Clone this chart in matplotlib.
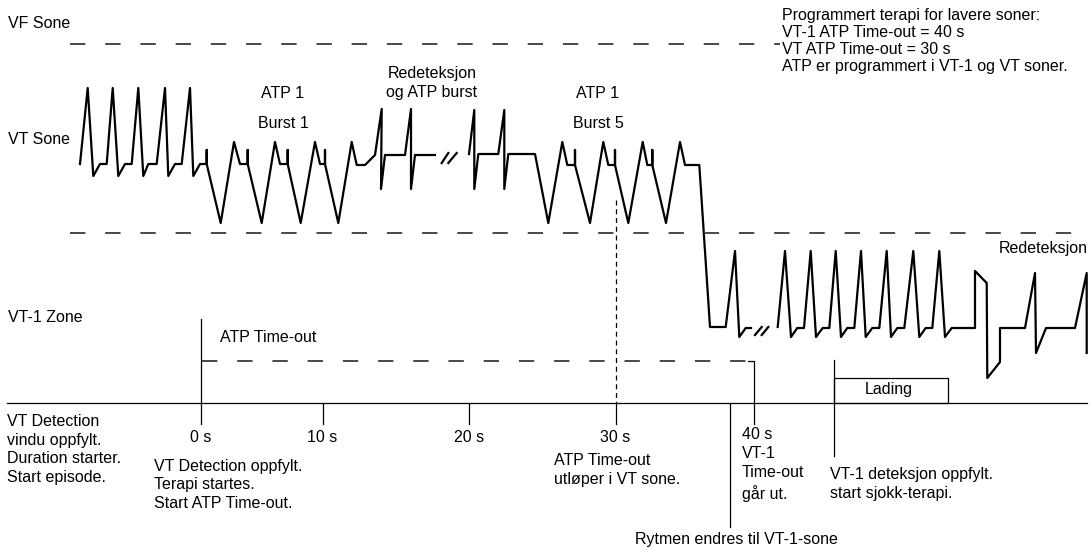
import matplotlib
matplotlib.use('Agg')
import matplotlib.pyplot as plt
from matplotlib.patches import Rectangle

plt.rcParams['font.family'] = ['Liberation Sans', 'DejaVu Sans']

# ---- waveform vertices (picture pixels, y down) ----
# VT rhythm, ATP burst 1, redetection beats
seg_a_x = [80, 87.7, 93.3, 100, 106.7, 112.7, 118.3, 125, 131.7, 138.3, 143.3, 148.3, 156.7,
           165, 168.3, 175, 181.7, 190, 193.3, 200, 206.7,
           206.7, 206.7, 220.7, 234, 240, 247.7, 247.7, 247.7, 261.7, 275, 280, 287.7,
           287.7, 287.7, 300.7, 315, 320, 325, 325, 325, 338.3, 351.7, 356.7, 365,
           375, 381.7, 381, 385, 405, 411, 411, 415, 435]
seg_a_y = [164, 88, 176, 164, 164, 88, 176, 164, 164, 88, 176, 164, 164,
           88, 176, 164, 164, 88, 176, 164, 164,
           150, 164, 223, 142, 164, 164, 150, 164, 223, 142, 164, 164,
           150, 164, 223, 142, 164, 164, 150, 164, 223, 142, 165, 165,
           155, 109, 189, 155, 155, 109, 189, 155, 155]

# redetection, ATP burst 5, drop into VT-1 zone
seg_b_x = [469, 474.3, 474.3, 478.3, 498.3, 504.3, 504.3, 508.3, 535,
           548.3, 562.3, 567.3, 575, 575, 575, 590, 603.3, 608.3, 615, 615, 615,
           628.3, 642.7, 647.3, 652.3, 652.3, 652.3, 666, 680, 685, 699.3,
           710, 725.7, 735, 739.3, 745.7, 751]
seg_b_y = [154, 110, 189, 154, 154, 110, 189, 154, 154,
           223, 142, 165, 165, 150, 165, 223, 142, 165, 165, 150, 165,
           223, 142, 165, 165, 150, 165, 223, 142, 165, 165,
           327, 327, 251, 337, 328, 328]

# VT-1 rhythm, shock, redetection
seg_c_x = [777.7, 785, 791, 797.3, 804, 810.7, 816, 822.7, 829.3, 835.7, 841, 847.3, 854.3,
           861, 865.7, 872.3, 879.3, 886.7, 891, 897.3, 904.3, 913.3, 919.3, 925.7, 932.3,
           939.3, 945, 951.7, 975, 975, 986.7, 987.3, 1000, 1000, 1025, 1035, 1036, 1046,
           1075, 1086.7, 1086.7]
seg_c_y = [327, 251, 337, 328, 328, 251, 337, 328, 328, 251, 337, 328, 328,
           251, 337, 328, 328, 251, 337, 328, 328, 251, 337, 328, 328,
           251, 337, 328, 328, 271, 283, 378, 362, 328, 328, 273, 353, 328,
           328, 273, 353]

# break marks "//"
breaks = [((441.7, 448.3), (163, 153)), ((448.3, 456.7), (163, 153)),
          ((755, 761.7), (335, 327)), ((761.7, 768.3), (335, 327))]

# zone borders
vf_line = ((70, 780), 44)
vt_line = ((70, 1091), 233)
atp_line = ((202, 754), 360.5)

# time axis
axis_y = 402.5
tick_x = [201, 322.5, 469, 615.5, 754]
tick_labels = ['0 s', '10 s', '20 s', '30 s', '40 s']

fig = plt.figure(figsize=(10.91, 5.5), dpi=100)
ax = fig.add_axes([0, 0, 1, 1])
ax.set_xlim(0, 1091)
ax.set_ylim(550, 0)
ax.axis('off')

lw = 1.6
for xs, ys in [(seg_a_x, seg_a_y), (seg_b_x, seg_b_y), (seg_c_x, seg_c_y)]:
    ax.plot(xs, ys, color='black', lw=lw, solid_joinstyle='round')
for bx, by in breaks:
    ax.plot(bx, by, color='black', lw=lw)

dash = (0, (8.5, 11))
ax.plot(vf_line[0], [vf_line[1]] * 2, color='#3a3a3a', lw=1.3, linestyle=dash)
ax.plot(vt_line[0], [vt_line[1]] * 2, color='#3a3a3a', lw=1.3, linestyle=dash)
ax.plot(atp_line[0], [atp_line[1]] * 2, color='#3a3a3a', lw=1.3, linestyle=dash)

# time axis and ticks
ax.plot([7, 1087], [axis_y, axis_y], color='black', lw=0.9)
for tx in tick_x:
    ax.plot([tx, tx], [axis_y, axis_y + 21.5], color='black', lw=0.9)

fs = 11.5
for tx, tl in zip(tick_x[:4], tick_labels[:4]):
    ax.text(tx, 437, tl, ha='center', va='center', fontsize=fs)

# vertical markers
ax.plot([tick_x[0], tick_x[0]], [319, axis_y], color='black', lw=0.9)
ax.plot([tick_x[3], tick_x[3]], [200, axis_y], color='black', lw=0.9, linestyle=(0, (4, 3)))
ax.plot([tick_x[4] - 6, tick_x[4], tick_x[4]], [atp_line[1], atp_line[1], axis_y],
        color='black', lw=0.9)
ax.plot([729.5, 729.5], [axis_y, 527], color='black', lw=0.9)
ax.plot([834, 834], [360, 456], color='black', lw=0.9)
ax.add_patch(Rectangle((834, 377.5), 114, axis_y - 377.5, fill=False, ec='black', lw=0.9))

ax.text(8, 24, 'VF Sone', fontsize=fs, va='center')
ax.text(8, 139, 'VT Sone', fontsize=fs, va='center')
ax.text(8, 317, 'VT-1 Zone', fontsize=fs, va='center')
ax.text(220.5, 338, 'ATP Time-out', fontsize=fs, va='center')
ax.text(282.5, 94, 'ATP 1', fontsize=fs, ha='center', va='center')
ax.text(283, 124, 'Burst 1', fontsize=fs, ha='center', va='center')
ax.text(432, 83, 'Redeteksjon\nog ATP burst', fontsize=fs, ha='center', va='center',
        linespacing=1.3)
ax.text(597, 94, 'ATP 1', fontsize=fs, ha='center', va='center')
ax.text(598.5, 124, 'Burst 5', fontsize=fs, ha='center', va='center')
ax.text(1088, 248, 'Redeteksjon', fontsize=fs, ha='right', va='center')
ax.text(889, 389.5, 'Lading', fontsize=fs, ha='center', va='center')
ax.text(782, 41, 'Programmert terapi for lavere soner:\nVT-1 ATP Time-out = 40 s\n'
        'VT ATP Time-out = 30 s\nATP er programmert i VT-1 og VT soner.',
        fontsize=fs, va='center', linespacing=1.16)
ax.text(7, 449.5, 'VT Detection\nvindu oppfylt.\nDuration starter.\nStart episode.',
        fontsize=fs, va='center', linespacing=1.33)
ax.text(154.5, 485, 'VT Detection oppfylt.\nTerapi startes.\nStart ATP Time-out.',
        fontsize=fs, va='center', linespacing=1.33)
ax.text(553.5, 470, 'ATP Time-out\nutløper i VT sone.', fontsize=fs, va='center',
        linespacing=1.33)
ax.text(741.5, 464.5, '40 s\nVT-1\nTime-out\ngår ut.', fontsize=fs, va='center',
        linespacing=1.33)
ax.text(830, 484, 'VT-1 deteksjon oppfylt.\nstart sjokk-terapi.', fontsize=fs, va='center',
        linespacing=1.33)
ax.text(736, 539.5, 'Rytmen endres til VT-1-sone', fontsize=fs, ha='center', va='center')

fig.savefig('out.png', dpi=100)
